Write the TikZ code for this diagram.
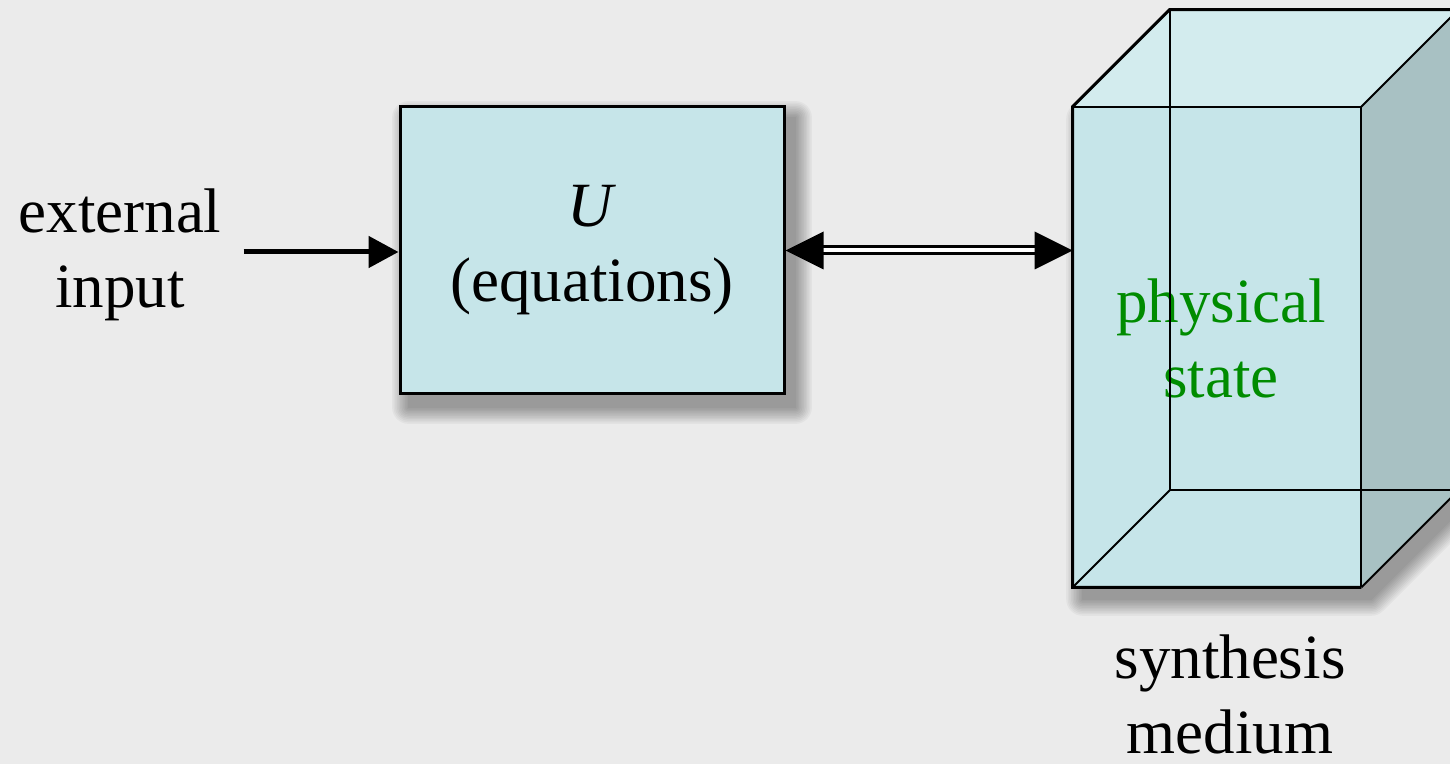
\documentclass[tikz,border=0pt]{standalone}
\usepackage{fontspec}
\setmainfont{Liberation Serif}
\usetikzlibrary{arrows.meta,positioning,calc}
\definecolor{bgcolor}{RGB}{235,235,235}
\definecolor{boxcolor}{RGB}{198,229,233}
\definecolor{topcolor}{RGB}{211,236,238}
\definecolor{sidecolor}{RGB}{168,193,195}
\definecolor{statecolor}{RGB}{0,140,0}
\pgfdeclarelayer{bg}
\pgfdeclarelayer{shade}
\pgfsetlayers{bg,shade,main}
\tikzset{
  lab/.style={font=\fontsize{31.5}{37.5}\selectfont, align=center, inner sep=0pt},
  eqbox/.style={draw, line width=1.5pt, fill=boxcolor, inner sep=0pt,
    minimum width=192pt, minimum height=143.5pt},
  thickedge/.style={line width=1.5pt, line join=miter},
  thinedge/.style={line width=1pt},
  inarrow/.style={-{Triangle[length=15pt,width=15.5pt]}, line width=2.5pt},
  dblline/.style={double=white, double distance=2pt, line width=1.5pt,
    shorten <=18pt, shorten >=18pt},
}
% soft drop shadow: stacked, widening copies of a path
\newcommand{\dropshade}[1]{%
  \foreach \g in {0.2,1,...,9} {
    \begin{scope}[transparency group, opacity=0.035]
      \filldraw[black, line width=2*\g pt, line join=round] #1;
    \end{scope}
  }
}

\begin{document}
\begin{tikzpicture}[x=0.5pt,y=-0.5pt]
  \begin{pgfonlayer}{bg}
    \fill[bgcolor] (0,0) rectangle (1450,764);
  \end{pgfonlayer}
  \clip (0,0) rectangle (1450,764);
  % equations block
  \node[lab, anchor=base] (ext) at (120,308) {external\\input};
  \node[eqbox, lab] (eq) at (592,250.5) {\textit{U}\\(equations)};
  \coordinate (inp) at ($(eq.west)+(-155,1.5)$);
  \draw[inarrow] (inp) -- (inp -| eq.west);
  % synthesis medium (box seen through its front face)
  \node[minimum width=144pt, minimum height=240pt, inner sep=0pt] (front) at (1217,347) {};
  \coordinate (bnw) at ($(front.north west)+(97,-97)$);
  \coordinate (bne) at ($(front.north east)+(97,-97)$);
  \coordinate (bsw) at ($(front.south west)+(97,-97)$);
  \coordinate (bse) at ($(front.south east)+(97,-97)$);
  \fill[topcolor] (front.north west) -- (bnw) -- (bne) -- (front.north east) -- cycle;
  \fill[sidecolor] (front.north east) -- (bne) -- (bse) -- (front.south east) -- cycle;
  \fill[boxcolor] (front.north west) rectangle (front.south east);
  \node[lab, text=statecolor] (state) at ($(front.center)+(4,-9)$) {physical\\state};
  \draw[thinedge] (bnw) -- (bsw) -- (bse);
  \draw[thinedge] (front.south west) -- (bsw);
  \draw[thinedge] (front.north west) -- (front.north east) -- (front.south east);
  \draw[thinedge] (front.north east) -- (bne);
  \draw[thinedge] (front.south east) -- (bse);
  \draw[thickedge] (front.south east) -- (front.south west) -- (front.north west)
    -- (bnw) -- (bne);
  \node[lab, anchor=base] (synth) at (1230,753) {synthesis\\medium};
  % shadows
  \begin{pgfonlayer}{shade}
    \dropshade{([shift={(10,12)}]eq.north west) rectangle ([shift={(10,12)}]eq.south east)}
    \dropshade{([shift={(10,12)}]front.north west) -- ([shift={(10,12)}]front.north east)
      -- ([shift={(10,12)}]bne) -- ([shift={(10,12)}]bse)
      -- ([shift={(10,12)}]front.south east) -- ([shift={(10,12)}]front.south west) -- cycle}
  \end{pgfonlayer}
  % link between the two
  \coordinate (lt) at (eq.east);
  \coordinate (rt) at (eq.east -| front.west);
  \draw[dblline] (lt) -- (rt);
  \fill (lt) -- ++(38,-19) -- ++(0,38) -- cycle;
  \fill (rt) -- ++(-38,-19) -- ++(0,38) -- cycle;
\end{tikzpicture}
\end{document}
